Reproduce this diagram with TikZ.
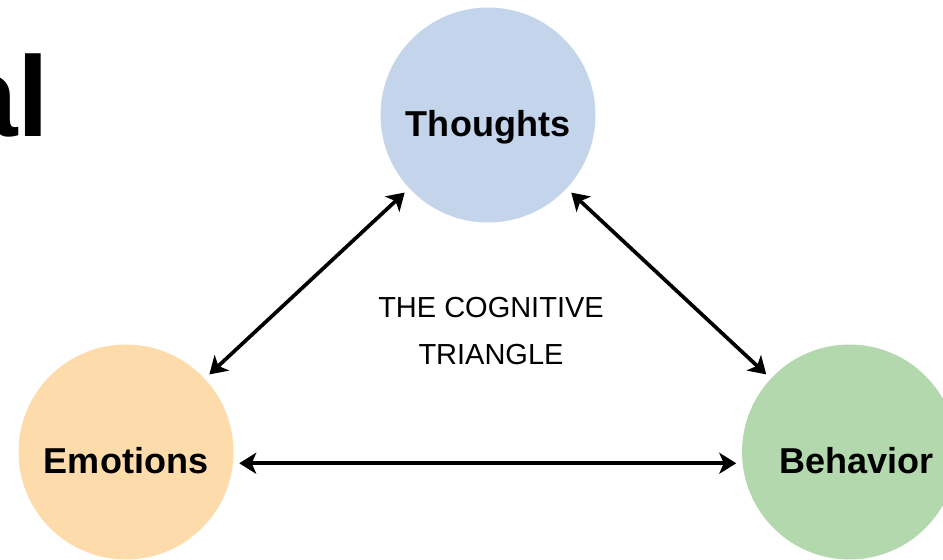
\documentclass[tikz,border=0pt]{standalone}
\usepackage{fontspec}
\setmainfont{Liberation Sans}
\usepackage{xcolor}
\usepackage{tikz}
\usetikzlibrary{arrows.meta}
\definecolor{thoughtbg}{RGB}{196, 212, 234}
\definecolor{emotionbg}{RGB}{253, 219, 170}
\definecolor{behaviorbg}{RGB}{180, 216, 173}

\begin{document}
\begin{tikzpicture}[
    x=0.02cm, y=-0.02cm,
    bubble/.style={circle, draw=none, minimum size=4.3cm, inner sep=0pt, align=center, text height=29pt, text depth=4.5pt, font=\fontsize{20.5}{24}\selectfont\bfseries},
    arrow/.style={{Stealth[length=0.34cm, width=0.42cm, inset=0.09cm]}-{Stealth[length=0.34cm, width=0.42cm, inset=0.09cm]}, line width=2.1pt, color=black, shorten <=0.12cm, shorten >=0.12cm}
]
    \useasboundingbox (0,0) rectangle (943,560);
    \clip (0,0) rectangle (943,560);

    % Title fragment
    \node[anchor=base west, inner sep=0pt, font=\fontsize{65}{78}\selectfont\bfseries] (title) at (-46,137) {al};

    % Triangle Nodes
    \node[bubble, fill=thoughtbg] (thoughts) at (488,115) {Thoughts};
    \node[bubble, fill=emotionbg] (emotions) at (126,452) {Emotions};
    \node[bubble, fill=behaviorbg] (behavior) at (849.5,452) {\hspace*{8pt}Behavior};
    \node[align=center, font=\fontsize{16.5}{27}\selectfont] (caption) at (491,331) {THE COGNITIVE\\TRIANGLE};

    % Arrows
    \draw[arrow] (thoughts) -- (emotions);
    \draw[arrow] (thoughts) -- (behavior);
    \draw[arrow] (emotions.-6) -- (behavior.186);
\end{tikzpicture}
\end{document}
